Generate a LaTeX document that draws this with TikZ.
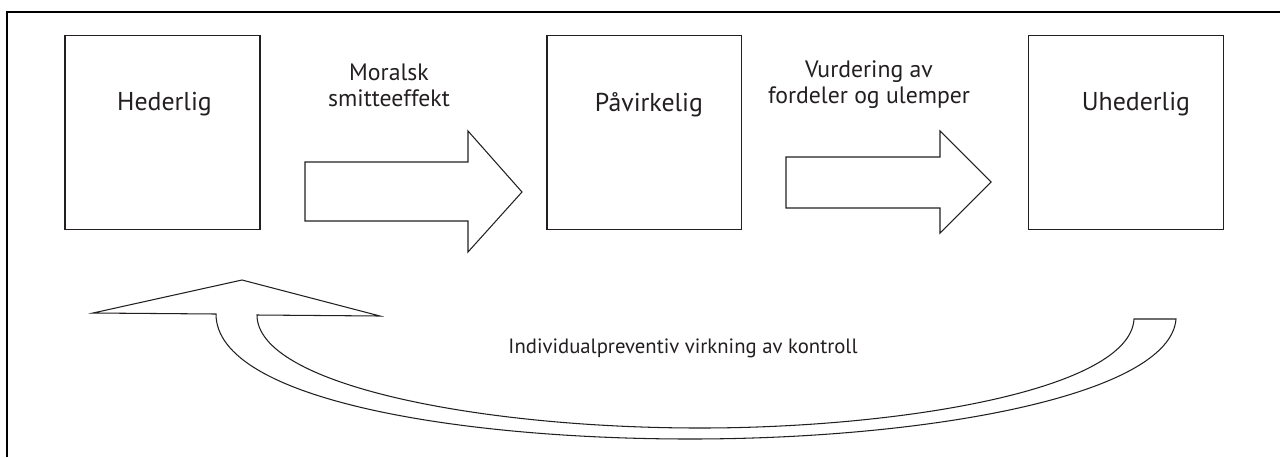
\documentclass[tikz,border=0pt]{standalone}
\usepackage{fontspec}
\setmainfont{PT Sans}
\usepackage{tikz}
\usetikzlibrary{positioning, calc}
\definecolor{ink}{HTML}{231F20}

\begin{document}
\begin{tikzpicture}[
    x=0.02cm, y=-0.02cm,
    node distance=5.72cm,
    box/.style={
        rectangle, draw=ink, line width=0.6pt,
        minimum width=3.9cm, minimum height=3.88cm, inner sep=0pt
    },
    boxtext/.style={font=\fontsize{14.7pt}{18pt}\selectfont, text=ink},
    lbl/.style={font=\fontsize{13.5pt}{14.8pt}\selectfont, text=ink, align=center},
    curvelbl/.style={font=\fontsize{11.8pt}{14pt}\selectfont, text=ink},
    blockarrow/.style={draw=ink, line width=0.6pt, fill=white, line join=miter},
    frame/.style={draw=black, line width=1.2pt}
]
    \useasboundingbox (0,0) rectangle (1280,457);
    \draw[frame] (7,457) -- (7,12) -- (1280,12);

    \node[box] (hederlig) at (162.5,132.5) {};
    \node[box, right=of hederlig] (pavirkelig) {};
    \node[box, right=of pavirkelig] (uhederlig) {};

    \node[boxtext] (hederligtxt) at ([xshift=0.04cm, yshift=-1.39cm]hederlig.north) {Hederlig};
    \node[boxtext] (pavirkeligtxt) at ([xshift=0.09cm, yshift=-1.39cm]pavirkelig.north) {Påvirkelig};
    \node[boxtext] (uhederligtxt) at ([xshift=0.19cm, yshift=-1.39cm]uhederlig.north) {Uhederlig};

    % block arrows between the boxes
    \draw[blockarrow] (305,162) -- (468,162) -- (468,131) -- (522,192)
        -- (468,252) -- (468,221) -- (305,221) -- cycle;
    \draw[blockarrow] (786,157) -- (940,157) -- (940,131) -- (991,182)
        -- (940,233) -- (940,208) -- (786,208) -- cycle;

    \node[lbl] (smitte) at (389,85) {Moralsk\\smitteeffekt};
    \node[lbl] (vurdering) at (869,85) {Vurdering av\\fordeler og ulemper};

    % curved return arrow
    \draw[blockarrow] (242,280) -- (380,316) -- (257,315)
        .. controls (257,385) and (480,428) .. (700,428)
        .. controls (900,428) and (1130,390) .. (1134,319)
        -- (1176,319)
        .. controls (1170,395) and (930,439) .. (690,439)
        .. controls (460,439) and (216,400) .. (216,314)
        -- (93,313) -- cycle;

    \node[curvelbl] (kontroll) at (683,348) {Individualpreventiv virkning av kontroll};
\end{tikzpicture}
\end{document}
